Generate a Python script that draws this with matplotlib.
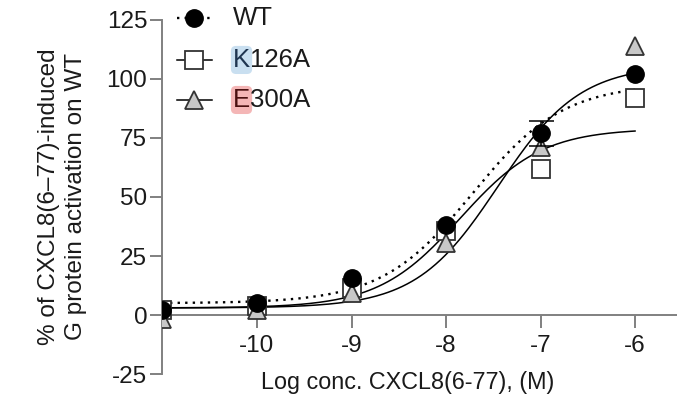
import numpy as np
import matplotlib.pyplot as plt

plt.rcParams['font.family'] = ['Liberation Sans', 'DejaVu Sans']
plt.rcParams['axes.unicode_minus'] = False

# data
log_conc = [-11, -10, -9, -8, -7, -6]
wt = [2, 5, 15.5, 38, 77, 102]
k126a = [2, 4, 11.5, 35.5, 62, 92]
e300a = [-1.5, 2, 9.5, 30.5, 71, 114]
wt_err = [0, 0, 0, 0, 5.3, 0]
e300a_err = [0, 0, 0, 0, 3.5, 0]

# fitted 4PL curves: bottom, top, logEC50, hill
wt_fit = (5, 98, -7.72, 0.9)
k126a_fit = (3, 79, -7.85, 1.0)
e300a_fit = (3, 106, -7.45, 1.0)

x_ticks = [-10, -9, -8, -7, -6]
y_ticks = [-25, 0, 25, 50, 75, 100, 125]


def four_pl(x, p):
    bottom, top, ec50, hill = p
    return bottom + (top - bottom) / (1 + 10 ** ((ec50 - x) * hill))


def with_err(x, y, err):
    # keep only the points that carry an error bar
    idx = [i for i, e in enumerate(err) if e > 0]
    return [x[i] for i in idx], [y[i] for i in idx], [err[i] for i in idx]


fig = plt.figure(figsize=(6.77, 4.07), dpi=100)
ax = fig.add_axes([0.240, 0.081, 0.760, 0.870])

xs = np.linspace(-11, -6, 200)
ax.plot(xs, four_pl(xs, k126a_fit), color='black', lw=1.1, zorder=2)
ax.plot(xs, four_pl(xs, e300a_fit), color='black', lw=1.1, zorder=2)
ax.plot(xs, four_pl(xs, wt_fit), color='black', lw=1.7,
        ls=(0, (1, 2.2)), zorder=2)

sq_style = dict(marker='s', ms=12.5, mfc='white', mec='#333333', mew=1.3)
tri_style = dict(marker='^', ms=13, mfc='#c8c8c8', mec='#333333', mew=1.3)
circ_style = dict(marker='o', ms=12.5, mfc='black', mec='black')

ax.plot(log_conc, k126a, ls='none', zorder=3, **sq_style)

ex, ey, ee = with_err(log_conc, e300a, e300a_err)
ax.errorbar(ex, ey, yerr=ee, ls='none', ecolor='black', elinewidth=1.1,
            capsize=0, zorder=3)
ax.plot(log_conc, e300a, ls='none', zorder=3.5, **tri_style)

ex, ey, ee = with_err(log_conc, wt, wt_err)
ax.errorbar(ex, ey, yerr=ee, ls='none', ecolor='black', elinewidth=1.1,
            capsize=9, capthick=1.1, zorder=4)
ax.plot(log_conc, wt, ls='none', zorder=4.5, **circ_style)

ax.set_xlim(-11, -5.556)
ax.set_ylim(-25, 125)
ax.set_xticks(x_ticks)
ax.set_yticks(y_ticks)

for s in ['top', 'right']:
    ax.spines[s].set_visible(False)
ax.spines['bottom'].set_position(('data', 0))
for s in ['left', 'bottom']:
    ax.spines[s].set_color('#808080')
    ax.spines[s].set_linewidth(1.4)
ax.tick_params(axis='both', colors='#808080', width=1.4, labelsize=17.5,
               labelcolor='#1a1a1a', direction='out')
ax.tick_params(axis='x', length=9.5, pad=5)
ax.tick_params(axis='y', length=9, pad=2)

ax.text(0.477, -0.025, 'Log conc. CXCL8(6-77), (M)', transform=ax.transAxes,
        ha='center', va='center', fontsize=16.8, color='#1a1a1a')
ax.text(-0.195, 0.5, '% of CXCL8(6\u201377)-induced\nG protein activation on WT',
        transform=ax.transAxes, rotation=90, ha='center', va='center',
        multialignment='center', fontsize=17.5, linespacing=1.3,
        color='#1a1a1a')

# legend drawn by hand so the first letters can be highlighted
rows = [1.006, 0.887, 0.774]
handles = [(':', circ_style), ('-', sq_style), ('-', tri_style)]
for y, (ls, st) in zip(rows, handles):
    ax.plot([0.028, 0.096], [y, y], transform=ax.transAxes, color='black',
            lw=1.1 if ls == '-' else 1.7, ls=ls if ls == '-' else (0, (1, 2.2)),
            clip_on=False, zorder=5)
    ax.plot([0.062], [y], transform=ax.transAxes, ls='none', clip_on=False,
            zorder=6, **st)

ax.text(0.137, rows[0], 'WT', transform=ax.transAxes, va='center',
        fontsize=18.5, color='#1a1a1a')
labels = [('K', '126A', '#c9dff0', '#1f3550'), ('E', '300A', '#f4b6b6', '#4a1010')]
for y, (first, rest, bg, fg) in zip(rows[1:], labels):
    t = ax.text(0.137, y, first, transform=ax.transAxes, va='center',
                fontsize=18.5, color=fg,
                bbox=dict(boxstyle='round,pad=0.08,rounding_size=0.2',
                          fc=bg, ec='none'))
    ax.annotate(rest, xy=(1, 0.5), xycoords=t, va='center', ha='left',
                fontsize=18.5, color='#1a1a1a')

fig.savefig('out.png', dpi=100)
